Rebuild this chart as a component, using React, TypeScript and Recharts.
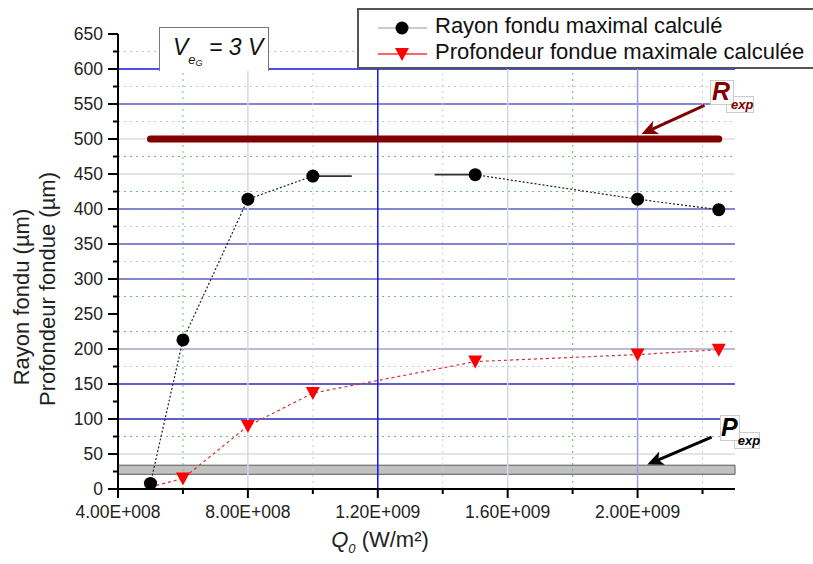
import React from 'react';
import { LineChart, Line, XAxis, YAxis, ReferenceLine, ReferenceArea } from 'recharts';

// ---- data ----
const qValues = [5e8, 6e8, 8e8, 1e9, 1.5e9, 2e9, 2.25e9];
const rayonValues = [8, 213, 414, 447, 449, 414, 399];
const profondeurValues = [3, 15, 90, 137, 182, 192, 199];
const rayonBreakX = 1.25e9; // the black curve is interrupted here
const rayonStubLeftX = [1e9, 1.12e9];
const rayonStubLeftY = 447;
const rayonStubRightX = [1.375e9, 1.5e9];
const rayonStubRightY = 449;

const rExpValue = 500;
const rExpX = [5e8, 2.25e9];
const pExpRange = [21, 34];

const xDomain = [4e8, 2.3e9];
const yDomain = [0, 650];
const xTicks = [4e8, 6e8, 8e8, 1e9, 1.2e9, 1.4e9, 1.6e9, 1.8e9, 2e9, 2.2e9];
const xMajorTicks = [4e8, 8e8, 1.2e9, 1.6e9, 2e9];
const yTicks = [0, 25, 50, 75, 100, 125, 150, 175, 200, 225, 250, 275, 300, 325, 350, 375, 400, 425, 450, 475, 500, 525, 550, 575, 600, 625, 650];
const yMajorTicks = [0, 50, 100, 150, 200, 250, 300, 350, 400, 450, 500, 550, 600, 650];

// grid lines (grouped by look)
const gridBlueY = [600];
const gridMidBlueY = [150, 100];
const gridSlateY = [550, 400, 350, 300];
const gridLavenderY = [200];
const gridLightY = [500, 450, 50];
const gridGreenDotY = [475, 425, 275, 225, 75];
const gridGrayDotY = [625, 575, 525, 375, 325, 175];
const gridTopY = 600;
const gridBlueX = [1.2e9];
const gridLavenderX = [2e9];
const gridPaleX = [8e8, 1.6e9];
const gridGreenDotX = [6e8, 1.8e9];
const gridGrayDotX = [1e9, 1.4e9, 2.2e9];

// annotation arrows (data coordinates)
const rArrow = [{ x: 2.206e9, y: 548 }, { x: 2.012e9, y: 507 }];
const pArrow = [{ x: 2.228e9, y: 74 }, { x: 2.03e9, y: 35 }];

const FONT = '"Liberation Sans", Arial, sans-serif';

const rayonData: { x: number; y: number | null }[] = [];
qValues.forEach((q, i) => {
  rayonData.push({ x: q, y: rayonValues[i] });
  if (i === 3) rayonData.push({ x: rayonBreakX, y: null });
});
const profondeurData = qValues.map((q, i) => ({ x: q, y: profondeurValues[i] }));
const stubLeft = rayonStubLeftX.map((x) => ({ x, y: rayonStubLeftY }));
const stubRight = rayonStubRightX.map((x) => ({ x, y: rayonStubRightY }));

const fmtSci = (v: number) => {
  const e = Math.floor(Math.log10(v) + 1e-9);
  const m = v / Math.pow(10, e);
  return m.toFixed(2) + 'E+' + String(e).padStart(3, '0');
};

const XTick = (props: any) => {
  const { x, y, payload } = props;
  const major = xMajorTicks.some((t) => Math.abs(t - payload.value) < 1);
  return (
    <g>
      <line x1={x} x2={x} y1={y} y2={y + (major ? 9 : 5)} stroke="#000" strokeWidth={2} />
      {major && (
        <text x={x} y={y + 29} textAnchor="middle" fontSize={17.5} fontFamily={FONT} fill="#222">
          {fmtSci(payload.value)}
        </text>
      )}
    </g>
  );
};

const YTick = (props: any) => {
  const { x, y, payload } = props;
  const major = yMajorTicks.includes(payload.value);
  return (
    <g>
      <line x1={x - (major ? 10 : 5)} x2={x} y1={y} y2={y} stroke="#000" strokeWidth={2} />
      {major && (
        <text x={x - 15} y={y + 6} textAnchor="end" fontSize={17.5} fontFamily={FONT} fill="#222">
          {payload.value}
        </text>
      )}
    </g>
  );
};

const arrowShape = (color: string, width: number, head: number) => (props: any) => {
  const { x1, y1, x2, y2 } = props;
  if ([x1, y1, x2, y2].some((v) => v == null || isNaN(v))) return <g />;
  const dx = x2 - x1;
  const dy = y2 - y1;
  const len = Math.sqrt(dx * dx + dy * dy);
  const ux = dx / len;
  const uy = dy / len;
  const bx = x2 - ux * head;
  const by = y2 - uy * head;
  const hw = head * 0.45;
  const pts = `${x2},${y2} ${bx - uy * hw},${by + ux * hw} ${bx + ux * head * 0.25},${by + uy * head * 0.25} ${bx + uy * hw},${by - ux * hw}`;
  return (
    <g>
      <line x1={x1} y1={y1} x2={bx + ux * 4} y2={by + uy * 4} stroke={color} strokeWidth={width} />
      <polygon points={pts} fill={color} />
    </g>
  );
};

const circleDot = (props: any) => {
  const { cx, cy, index } = props;
  if (cx == null || cy == null || props.value == null) return <g key={`c${index}`} />;
  return <circle key={`c${index}`} cx={cx} cy={cy} r={6.5} fill="#000" />;
};

const triangleDot = (props: any) => {
  const { cx, cy, index } = props;
  if (cx == null || cy == null) return <g key={`t${index}`} />;
  return (
    <polygon
      key={`t${index}`}
      points={`${cx - 7},${cy - 6} ${cx + 7},${cy - 6} ${cx},${cy + 7}`}
      fill="#ff0000"
    />
  );
};

const hLines = (vals: number[], stroke: string, width: number, dash?: string) =>
  vals.map((v) => (
    <ReferenceLine key={`h${v}`} y={v} stroke={stroke} strokeWidth={width} strokeDasharray={dash} ifOverflow="extendDomain" />
  ));

const vLines = (vals: number[], stroke: string, width: number, dash?: string) =>
  vals.map((v) => (
    <ReferenceLine
      key={`v${v}`}
      segment={[{ x: v, y: 0 }, { x: v, y: gridTopY }]}
      stroke={stroke}
      strokeWidth={width}
      strokeDasharray={dash}
    />
  ));

export default function App() {
  return (
    <div
      style={{
        position: 'absolute',
        left: 0,
        top: 0,
        width: 813,
        height: 564,
        overflow: 'hidden',
        background: '#fff',
        fontFamily: FONT,
      }}
    >
      <LineChart width={813} height={564} margin={{ top: 34, right: 78, bottom: 0, left: 0 }}>
        <XAxis
          type="number"
          dataKey="x"
          domain={xDomain}
          ticks={xTicks}
          interval={0}
          height={75}
          allowDataOverflow
          tickSize={0}
          tickMargin={0}
          tickLine={false}
          tick={(p: any) => <XTick {...p} />}
          axisLine={{ stroke: '#000', strokeWidth: 2 }}
        />
        <YAxis
          type="number"
          dataKey="y"
          domain={yDomain}
          ticks={yTicks}
          interval={0}
          width={118}
          allowDataOverflow
          tickSize={0}
          tickMargin={0}
          tickLine={false}
          tick={(p: any) => <YTick {...p} />}
          axisLine={{ stroke: '#000', strokeWidth: 2 }}
        />

        {hLines(gridGrayDotY, '#c4c4c4', 1, '2 4')}
        {hLines(gridGreenDotY, '#6cbf6c', 1, '2 4')}
        {hLines(gridLightY, '#dcdcdc', 1.5)}
        {hLines(gridLavenderY, '#a4a4cc', 1.5)}
        {hLines(gridSlateY, '#5c5cc0', 1.5)}
        {hLines(gridMidBlueY, '#2a2ab8', 1.5)}
        {hLines(gridBlueY, '#1414e6', 1.5)}
        {vLines(gridGrayDotX, '#cfcfcf', 1, '2 4')}
        {vLines(gridGreenDotX, '#6cbf6c', 1, '2 4')}
        {vLines(gridPaleX, '#d6d6ee', 1.5)}
        {vLines(gridLavenderX, '#9c9ce4', 1.5)}
        {vLines(gridBlueX, '#1414f0', 1.5)}

        <ReferenceLine
          segment={[{ x: rExpX[0], y: rExpValue }, { x: rExpX[1], y: rExpValue }]}
          stroke="#800000"
          strokeWidth={7}
          strokeLinecap="round"
        />

        <Line
          data={profondeurData}
          dataKey="y"
          stroke="#d83030"
          strokeWidth={1.2}
          strokeDasharray="3 3"
          dot={triangleDot}
          activeDot={false}
          isAnimationActive={false}
        />
        <Line
          data={rayonData}
          dataKey="y"
          stroke="#222"
          strokeWidth={1.2}
          strokeDasharray="2 2"
          connectNulls={false}
          dot={circleDot}
          activeDot={false}
          isAnimationActive={false}
        />
        <Line data={stubLeft} dataKey="y" stroke="#333" strokeWidth={1.8} dot={false} activeDot={false} isAnimationActive={false} />
        <Line data={stubRight} dataKey="y" stroke="#333" strokeWidth={1.8} dot={false} activeDot={false} isAnimationActive={false} />

        <ReferenceArea
          x1={xDomain[0]}
          x2={xDomain[1]}
          y1={pExpRange[0]}
          y2={pExpRange[1]}
          fill="#c0c0c0"
          fillOpacity={1}
          stroke="#5a5a5a"
          strokeWidth={1}
        />

        <ReferenceLine segment={rArrow} shape={arrowShape('#800000', 3, 16)} />
        <ReferenceLine segment={pArrow} shape={arrowShape('#000', 3, 16)} />
      </LineChart>

      {/* V box */}
      <div
        style={{
          position: 'absolute',
          left: 159,
          top: 27,
          width: 108,
          height: 43,
          background: '#fff',
          borderTop: '1.5px solid #777',
          borderLeft: '1.5px solid #777',
          borderRight: '1.5px solid #777',
        }}
      >
        <div style={{ position: 'absolute', left: 13, top: 6, fontSize: 23, fontStyle: 'italic', color: '#111', whiteSpace: 'nowrap' }}>
          V
          <span style={{ fontSize: 13, position: 'relative', top: 9 }}>
            e<span style={{ fontSize: 9, position: 'relative', top: 2 }}>G</span>
          </span>
          <span> = 3 V</span>
        </div>
      </div>

      {/* legend */}
      <div
        style={{
          position: 'absolute',
          left: 357,
          top: 8,
          width: 480,
          height: 57,
          background: '#fff',
          border: '2px solid #555',
        }}
      >
        <svg width={70} height={57} style={{ position: 'absolute', left: 0, top: 0 }}>
          <line x1={19} x2={68} y1={18} y2={18} stroke="#b8b8b8" strokeWidth={1.5} />
          <circle cx={43} cy={18} r={6.5} fill="#000" />
          <line x1={19} x2={68} y1={44} y2={44} stroke="#ff3030" strokeWidth={1.5} />
          <polygon points="36,38 50,38 43,51" fill="#ff0000" />
        </svg>
        <div style={{ position: 'absolute', left: 76, top: 3, fontSize: 22, color: '#111', whiteSpace: 'nowrap', lineHeight: '26px' }}>
          Rayon fondu maximal calculé
        </div>
        <div style={{ position: 'absolute', left: 76, top: 29, fontSize: 22, color: '#111', whiteSpace: 'nowrap', lineHeight: '26px' }}>
          Profondeur fondue maximale calculée
        </div>
      </div>

      {/* R_exp label */}
      <div style={{ position: 'absolute', left: 726, top: 96, width: 26, height: 15, background: '#fff', border: '1px solid #ccc' }} />
      <div style={{ position: 'absolute', left: 710, top: 80, width: 22, height: 23, background: '#fff', border: '1px solid #ccc' }} />
      <div style={{ position: 'absolute', left: 712, top: 77, fontSize: 25, fontWeight: 'bold', fontStyle: 'italic', color: '#800000', whiteSpace: 'nowrap', lineHeight: '28px' }}>
        R
        <span style={{ fontSize: 13, position: 'relative', top: 9, left: 1 }}>exp</span>
      </div>

      {/* P_exp label */}
      <div style={{ position: 'absolute', left: 734, top: 432, width: 24, height: 15, background: '#fff', border: '1px solid #ccc' }} />
      <div style={{ position: 'absolute', left: 720, top: 415, width: 18, height: 24, background: '#fff', border: '1px solid #ccc' }} />
      <div style={{ position: 'absolute', left: 721, top: 413, fontSize: 25, fontWeight: 'bold', fontStyle: 'italic', color: '#000', whiteSpace: 'nowrap', lineHeight: '28px' }}>
        P
        <span style={{ fontSize: 13, position: 'relative', top: 9, left: 0 }}>exp</span>
      </div>

      {/* axis titles */}
      <div
        style={{
          position: 'absolute',
          left: 22,
          top: 297,
          transform: 'translate(-50%, -50%) rotate(-90deg)',
          fontSize: 22,
          color: '#222',
          whiteSpace: 'nowrap',
        }}
      >
        Rayon fondu (µm)
      </div>
      <div
        style={{
          position: 'absolute',
          left: 48,
          top: 289,
          transform: 'translate(-50%, -50%) rotate(-90deg)',
          fontSize: 22,
          color: '#222',
          whiteSpace: 'nowrap',
        }}
      >
        Profondeur fondue (µm)
      </div>
      <div
        style={{
          position: 'absolute',
          left: 380,
          top: 540,
          transform: 'translate(-50%, -50%)',
          fontSize: 22,
          color: '#222',
          whiteSpace: 'nowrap',
        }}
      >
        <span style={{ fontStyle: 'italic' }}>Q</span>
        <span style={{ fontStyle: 'italic', fontSize: 13, position: 'relative', top: 6 }}>0</span>
        <span> (W/m²)</span>
      </div>
    </div>
  );
}
